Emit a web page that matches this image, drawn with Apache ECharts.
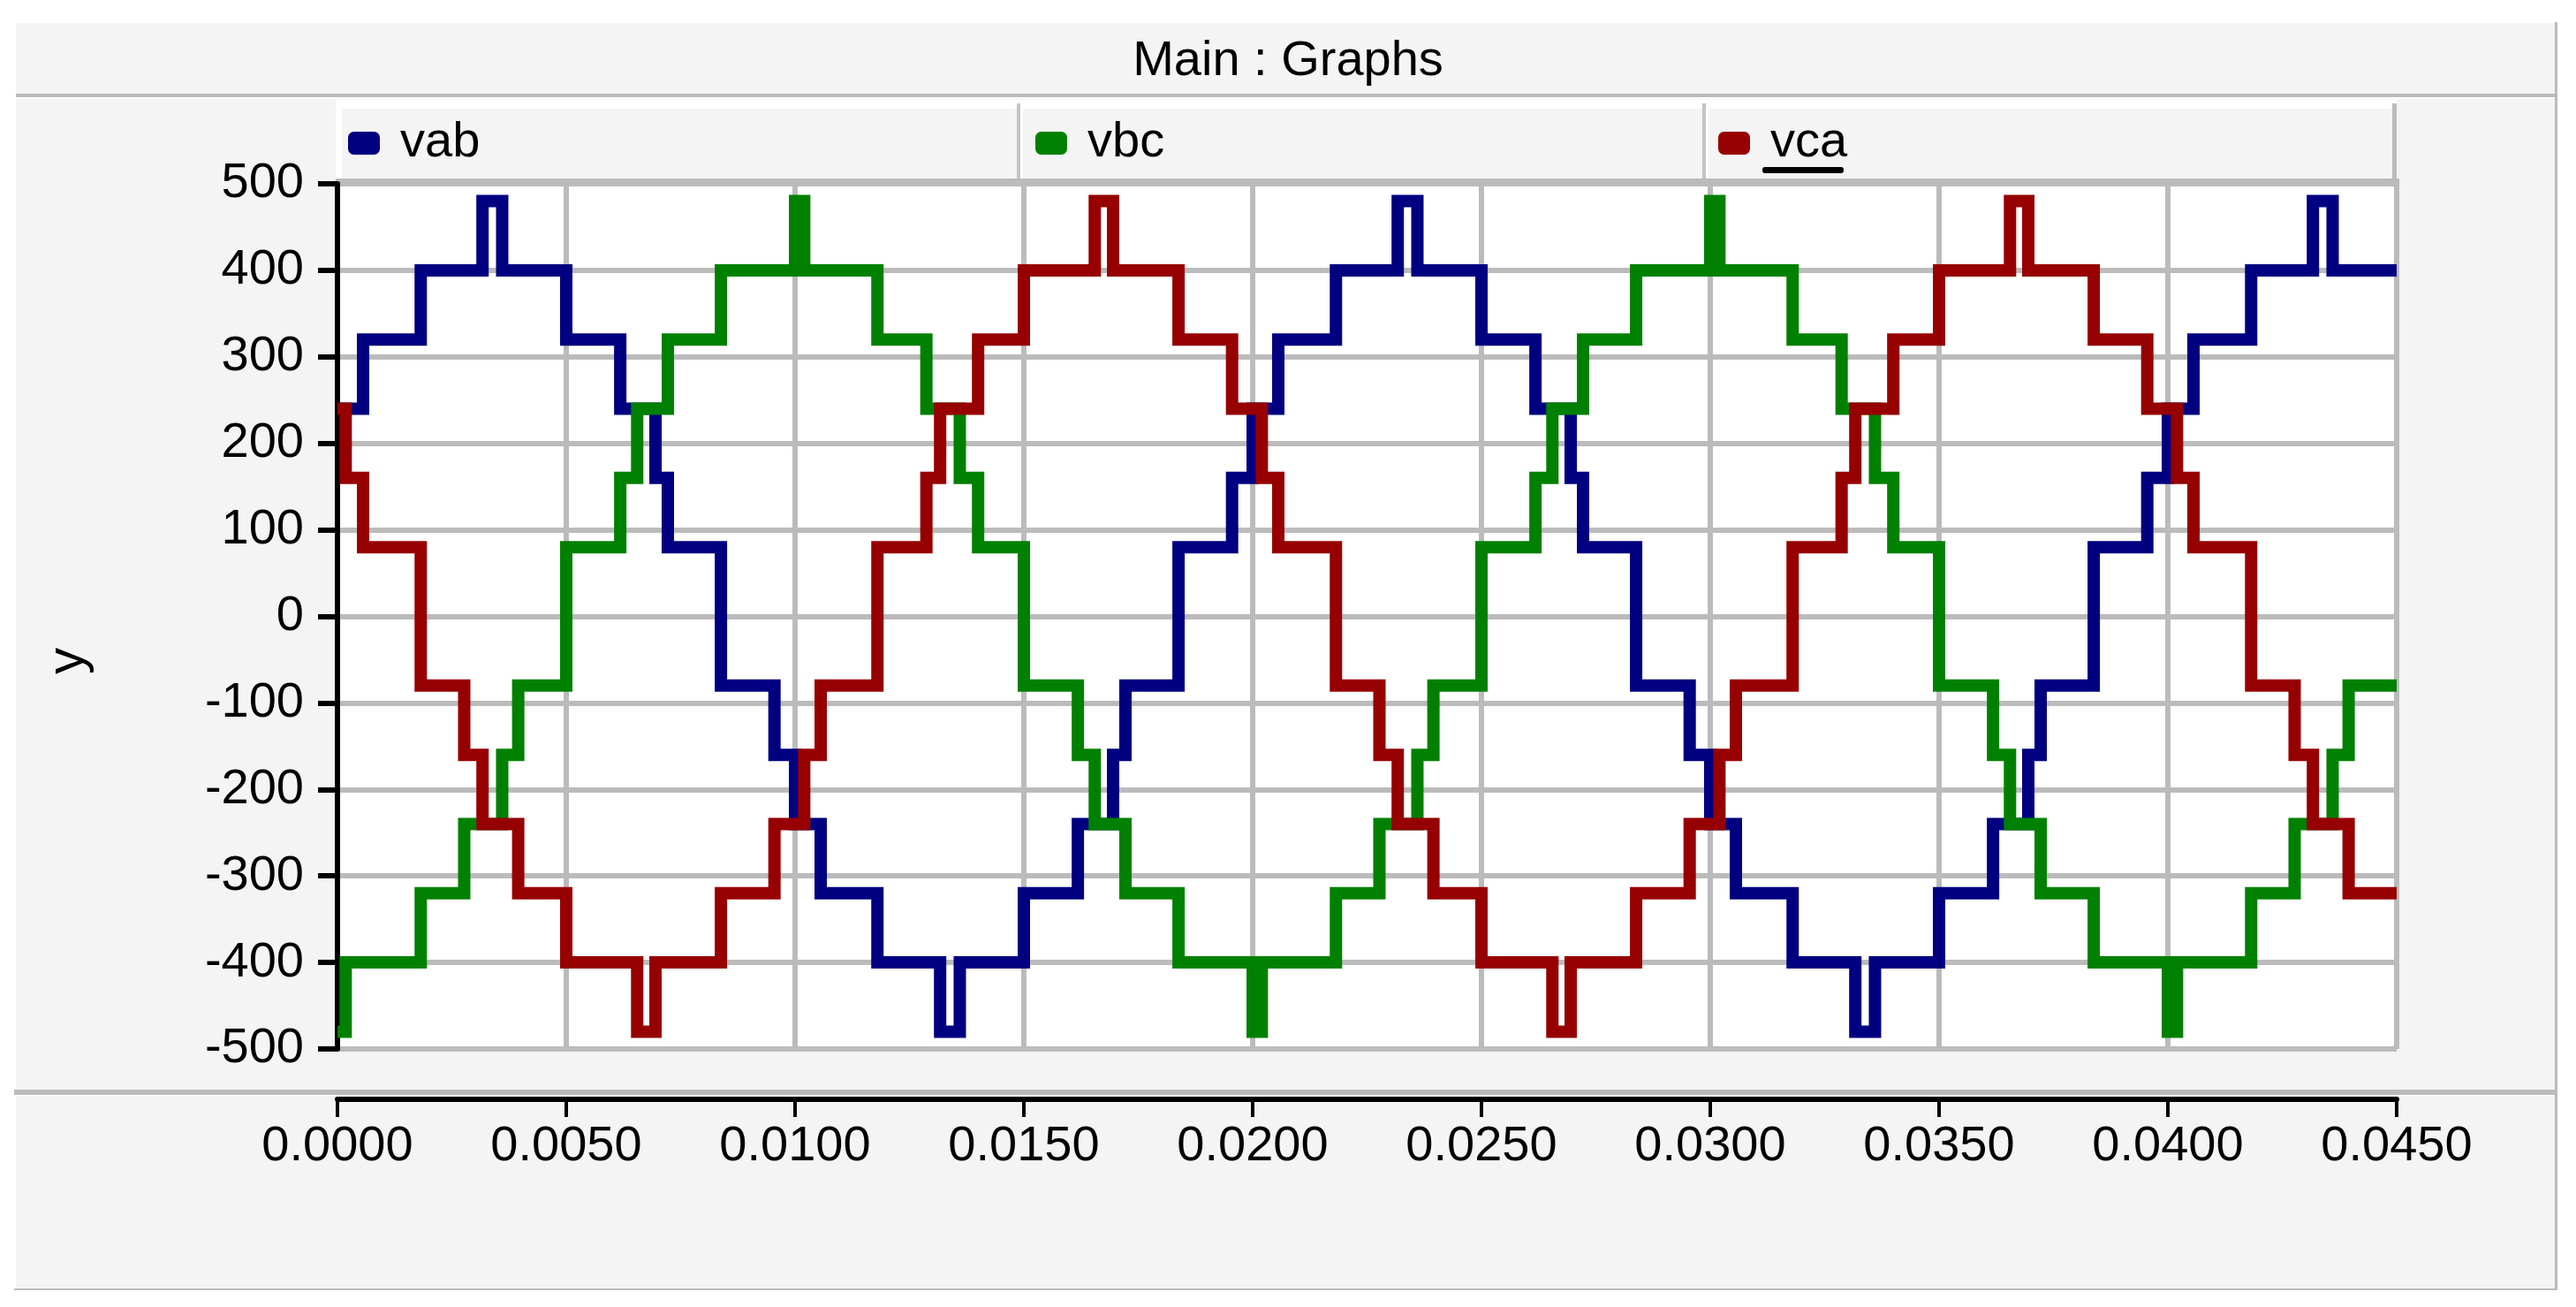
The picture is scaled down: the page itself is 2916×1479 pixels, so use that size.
<!DOCTYPE html>
<html>
<head>
<meta charset="utf-8">
<title>Main : Graphs</title>
<script src="https://cdn.jsdelivr.net/npm/echarts@6.0.0/dist/echarts.min.js"></script>
<style>
    html, body { margin: 0; padding: 0; background: #ffffff; }
    #chart { width: 2916px; height: 1479px; }
</style>
</head>
<body>
<div id="chart"></div>
<script>
    // step breakpoints: [time (s), value after the step]
    const vabSteps = [
        [0.0, 240], [0.00056, 320], [0.00182, 400], [0.00317, 480], [0.0036, 400],
        [0.0050, 320], [0.00618, 240], [0.00695, 160], [0.00722, 80], [0.00838, -80],
        [0.00955, -160], [0.0100, -240], [0.01056, -320], [0.0118, -400], [0.01317, -480],
        [0.0136, -400], [0.0150, -320], [0.01618, -240], [0.01695, -160], [0.01722, -80],
        [0.01838, 80], [0.01955, 160], [0.0200, 240], [0.02056, 320], [0.02182, 400],
        [0.02317, 480], [0.0236, 400], [0.0250, 320], [0.02618, 240], [0.02695, 160],
        [0.02722, 80], [0.02838, -80], [0.02955, -160], [0.0300, -240], [0.03056, -320],
        [0.0318, -400], [0.03317, -480], [0.0336, -400], [0.0350, -320], [0.03618, -240],
        [0.03695, -160], [0.03722, -80], [0.03838, 80], [0.03955, 160], [0.0400, 240],
        [0.04056, 320], [0.04182, 400], [0.04317, 480], [0.0436, 400], [0.0450, 400]
    ];

    const vbcSteps = [
        [0.0, -480], [0.00018, -400], [0.00182, -320], [0.00277, -240], [0.0036, -160],
        [0.00395, -80], [0.0050, 80], [0.00618, 160], [0.00655, 240], [0.00722, 320],
        [0.00838, 400], [0.0100, 480], [0.0102, 400], [0.0118, 320], [0.01287, 240],
        [0.0136, 160], [0.0140, 80], [0.0150, -80], [0.01618, -160], [0.01655, -240],
        [0.01722, -320], [0.01838, -400], [0.0200, -480], [0.0202, -400], [0.02182, -320],
        [0.02277, -240], [0.0236, -160], [0.02395, -80], [0.0250, 80], [0.02618, 160],
        [0.02655, 240], [0.02722, 320], [0.02838, 400], [0.0300, 480], [0.0302, 400],
        [0.0318, 320], [0.03287, 240], [0.0336, 160], [0.0340, 80], [0.0350, -80],
        [0.03618, -160], [0.03655, -240], [0.03722, -320], [0.03838, -400], [0.0400, -480],
        [0.0402, -400], [0.04182, -320], [0.04277, -240], [0.0436, -160], [0.04395, -80],
        [0.0450, -80]
    ];

    const vcaSteps = [
        [0.0, 240], [0.00018, 160], [0.00056, 80], [0.00182, -80], [0.00277, -160],
        [0.00317, -240], [0.00395, -320], [0.0050, -400], [0.00655, -480], [0.00695, -400],
        [0.00838, -320], [0.00955, -240], [0.0102, -160], [0.01056, -80], [0.0118, 80],
        [0.01287, 160], [0.01317, 240], [0.0140, 320], [0.0150, 400], [0.01655, 480],
        [0.01695, 400], [0.01838, 320], [0.01955, 240], [0.0202, 160], [0.02056, 80],
        [0.02182, -80], [0.02277, -160], [0.02317, -240], [0.02395, -320], [0.0250, -400],
        [0.02655, -480], [0.02695, -400], [0.02838, -320], [0.02955, -240], [0.0302, -160],
        [0.03056, -80], [0.0318, 80], [0.03287, 160], [0.03317, 240], [0.0340, 320],
        [0.0350, 400], [0.03655, 480], [0.03695, 400], [0.03838, 320], [0.03955, 240],
        [0.0402, 160], [0.04056, 80], [0.04182, -80], [0.04277, -160], [0.04317, -240],
        [0.04395, -320], [0.0450, -320]
    ];

    const seriesNames = ["vab", "vbc", "vca"];
    const seriesColors = ["#000080", "#008000", "#960000"];
    const xRange = [0, 0.045, 0.005];   // min, max, interval
    const yRange = [-500, 500, 100];

    const FONT = '"Liberation Sans", Arial, sans-serif';
    const FONT_SIZE = 56;
    const GRAY = "#bbbbbb";
    const PANEL = "#f4f4f4";

    let chart = echarts.init(document.getElementById("chart"), null, {renderer: "canvas"});

    function rect(x, y, w, h, fill, z) {
        return {type: "rect", z: z, silent: true, shape: {x: x, y: y, width: w, height: h}, style: {fill: fill}};
    }

    function legendAt(name, left) {
        return {
            data: [name],
            left: left,
            top: 134,
            padding: 0,
            icon: "roundRect",
            itemWidth: 36,
            itemHeight: 26,
            selectedMode: false,
            textStyle: {fontSize: FONT_SIZE, fontFamily: FONT, color: "#000", padding: [0, 0, 0, 18]}
        };
    }

    let stepSeries = [vabSteps, vbcSteps, vcaSteps].map((data, i) => {
        return {
            type: "line",
            name: seriesNames[i],
            step: "end",
            data: data,
            showSymbol: false,
            silent: true,
            animation: false,
            color: seriesColors[i],
            itemStyle: {color: seriesColors[i]},
            lineStyle: {color: seriesColors[i], width: 14, join: "miter", cap: "butt"}
        };
    });

    let option = {
        backgroundColor: "#ffffff",
        animation: false,
        title: {
            text: "Main : Graphs",
            left: "center",
            top: 42,
            padding: 0,
            textStyle: {fontSize: FONT_SIZE, fontWeight: "normal", fontFamily: FONT, color: "#000"}
        },
        legend: [legendAt("vab", 394), legendAt("vbc", 1172), legendAt("vca", 1945)],
        grid: {left: 382, right: 203, top: 208, bottom: 292, outerBoundsMode: "none", show: false},
        xAxis: {
            type: "value",
            min: xRange[0],
            max: xRange[1],
            interval: xRange[2],
            offset: 57,
            axisLine: {show: true, onZero: false, lineStyle: {color: "#000", width: 6}},
            axisTick: {show: true, length: 20, lineStyle: {color: "#000", width: 4}},
            axisLabel: {
                margin: 26,
                fontSize: FONT_SIZE,
                fontFamily: FONT,
                color: "#000",
                formatter: (v) => v.toFixed(4)
            },
            splitLine: {show: true, lineStyle: {color: GRAY, width: 6}}
        },
        yAxis: {
            type: "value",
            min: yRange[0],
            max: yRange[1],
            interval: yRange[2],
            axisLine: {show: true, onZero: false, lineStyle: {color: "#000", width: 6}},
            axisTick: {show: true, inside: false, length: 22, lineStyle: {color: "#000", width: 6}},
            axisLabel: {margin: 38, fontSize: FONT_SIZE, fontFamily: FONT, color: "#000"},
            splitLine: {show: true, lineStyle: {color: GRAY, width: 6}}
        },
        graphic: {
            elements: [
                // title bar, graph panel, axis panel
                rect(18, 26, 2876, 82, PANEL, -20),
                rect(18, 106, 2877, 4, GRAY, -19),
                rect(18, 112, 2876, 1121, PANEL, -20),
                rect(16, 1233, 2879, 6, GRAY, -19),
                rect(18, 1240, 2876, 218, PANEL, -20),
                rect(16, 1458, 2879, 2, GRAY, -19),
                rect(2892, 25, 3, 1435, GRAY, -19),
                // legend strip
                rect(380, 113, 2333, 90, "#ffffff", -18),
                rect(387, 123, 2321, 79, PANEL, -17),
                rect(1151, 117, 4, 86, "#c4c4c4", -16),
                rect(1155, 117, 3, 86, "#ffffff", -16),
                rect(1927, 117, 4, 86, "#c4c4c4", -16),
                rect(1931, 117, 3, 86, "#ffffff", -16),
                rect(2708, 117, 5, 86, GRAY, -16),
                // plot area
                rect(382, 208, 2331, 979, "#ffffff", -18),
                rect(380, 202, 2336, 9, GRAY, -15),
                {
                    type: "text",
                    x: 77,
                    y: 748,
                    rotation: Math.PI / 2,
                    silent: true,
                    style: {text: "y", fontSize: 60, fontFamily: FONT, fill: "#000", align: "center", verticalAlign: "middle"}
                },
                // focus underline under the last legend entry
                {
                    type: "rect",
                    silent: true,
                    shape: {x: 1995, y: 189, width: 92, height: 7, r: 3},
                    style: {fill: "#000"}
                }
            ]
        },
        series: stepSeries
    };

    chart.setOption(option);
</script>
</body>
</html>
